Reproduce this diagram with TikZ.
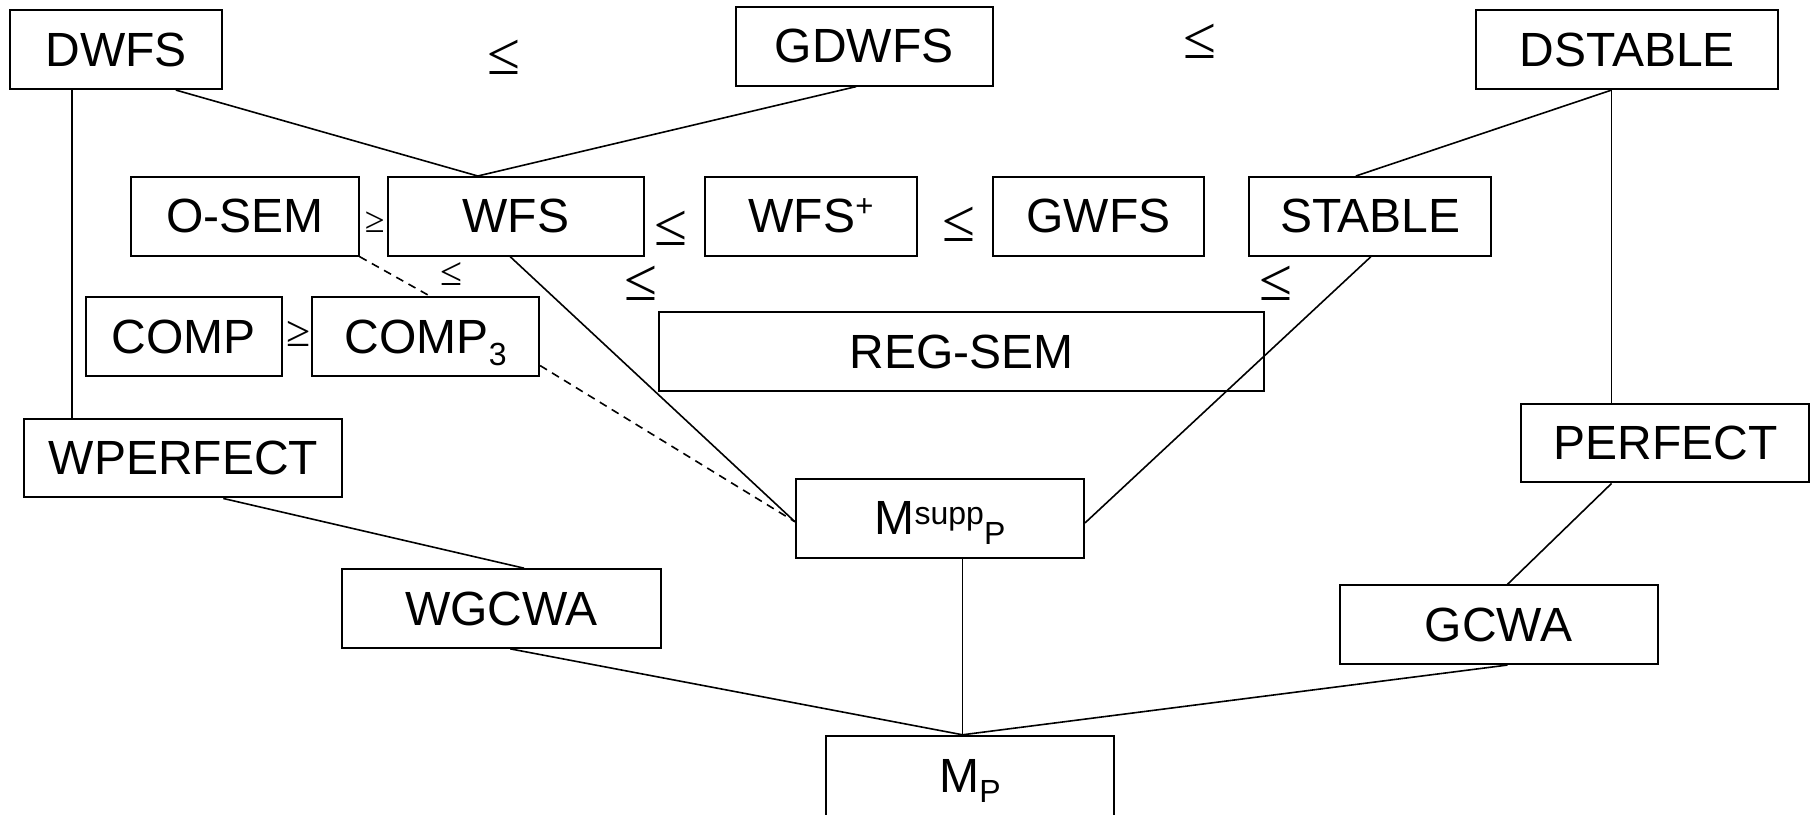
\documentclass[tikz,border=0pt]{standalone}
\usepackage{fontspec}
\setmainfont{Liberation Sans}
\newfontfamily\relfont{Liberation Serif}
\usetikzlibrary{calc}
\begin{document}
\begin{tikzpicture}[x=0.5784pt,y=-0.5784pt,
  box/.style n args={2}{draw, line width=1pt, inner sep=0pt,
    minimum width=#1*0.5784pt, minimum height=#2*0.5784pt,
    font=\fontsize{24}{28}\selectfont},
  ln/.style={line width=0.8pt},
  dsh/.style={line width=0.8pt, dash pattern=on 4pt off 3pt},
  rel/.style={font=\relfont\fontsize{30}{34}\selectfont, inner sep=0pt},
  srel/.style={font=\relfont\fontsize{18}{22}\selectfont, inner sep=0pt}]
\useasboundingbox (0,0) rectangle (1568,704);
% boxes
\node[box={183}{68}] (dwfs) at (100.5,43) {DWFS};
\node[box={222}{68}] (gdwfs) at (747,40) {GDWFS};
\node[box={261}{68}] (dstable) at (1406.5,43) {DSTABLE};
\node[box={197}{68}] (osem) at (211.5,187) {O-SEM};
\node[box={222}{68}] (wfs) at (446,187) {WFS};
\node[box={184}{68}] (wfsp) at (701,187) {WFS\raisebox{8pt}[0pt][0pt]{\fontsize{15.5}{15.5}\selectfont +}};
\node[box={183}{68}] (gwfs) at (949.5,187) {GWFS};
\node[box={209}{68}] (stable) at (1184.5,187) {STABLE};
\node[box={170}{68}] (comp) at (159,291) {COMP};
\node[box={196}{68}] (comp3) at (368,291) {COMP\raisebox{-6pt}[0pt][0pt]{\fontsize{16}{16}\selectfont 3}};
\node[box={523}{68}] (regsem) at (831.5,304) {REG-SEM};
\node[box={275}{68}] (wperfect) at (158.5,396) {WPERFECT};
\node[box={249}{68}] (perfect) at (1439.5,383) {PERFECT};
\node[box={249}{68}] (msupp) at (812.5,448) {M\raisebox{5pt}[0pt][0pt]{\fontsize{16}{16}\selectfont supp}\raisebox{-5pt}[0pt][0pt]{\fontsize{16}{16}\selectfont P}};
\node[box={275}{68}] (wgcwa) at (433.5,526) {WGCWA};
\node[box={275}{68}] (gcwa) at (1295.5,540) {GCWA};
\node[box={249}{70}] (mp) at (838.5,671) {M\raisebox{-5pt}[0pt][0pt]{\fontsize{16}{16}\selectfont P}};
% relation symbols
\node[rel] (le1) at (436,49.5) {≤};
\node[rel] (le2) at (1037,36) {≤};
\node[rel] (le3) at (580,197) {≤};
\node[rel] (le4) at (829,194) {≤};
\node[rel] (le5) at (554,245) {≤};
\node[rel] (le6) at (1103,245) {≤};
\node[srel] (ge1) at (324,192) {≥};
\node[srel, font=\relfont\fontsize{22}{24}\selectfont] (ge2) at (258,289) {≥};
\node[srel, font=\relfont\fontsize{20}{24}\selectfont] (le7) at (390,237) {≤};
% connectors
\draw[ln] ($(dwfs.south)+(51.5,0)$) -- ($(wfs.north)+(-33,0)$);
\draw[ln] ($(gdwfs.south)+(-7,0)$) -- ($(wfs.north)+(-33,0)$);
\draw[ln] ($(dwfs.south)+(-38.5,0)$) -- ($(wperfect.north)+(-96.5,0)$);
\draw[ln] ($(dstable.south)+(-13.5,0)$) -- ($(stable.north)+(-12.5,0)$);
\draw[ln] ($(dstable.south)+(-13.5,0)$) -- ($(perfect.north)+(-46.5,0)$);
\draw[dsh] (osem.south east) -- ($(comp3.north)+(4,0)$);
\draw[dsh] ($(comp3.east)+(0,25)$) -- ($(msupp.west)+(0,3)$);
\draw[ln] ($(wfs.south)+(-5,0)$) -- ($(msupp.west)+(0,3)$);
\draw[ln] ($(stable.south)+(0.5,0)$) -- ($(msupp.east)+(0,4)$);
\draw[ln] ($(wperfect.south)+(34.5,0)$) -- ($(wgcwa.north)+(19.5,0)$);
\draw[ln] ($(perfect.south)+(-46.5,0)$) -- ($(gcwa.north)+(7.5,0)$);
\draw[ln] ($(wgcwa.south)+(7.5,0)$) -- ($(mp.north)+(-6.5,0)$);
\draw[ln] ($(gcwa.south)+(7.5,0)$) -- ($(mp.north)+(-6.5,0)$);
\draw[ln] ($(msupp.south)+(19.5,0)$) -- ($(mp.north)+(-6.5,0)$);
\end{tikzpicture}
\end{document}
